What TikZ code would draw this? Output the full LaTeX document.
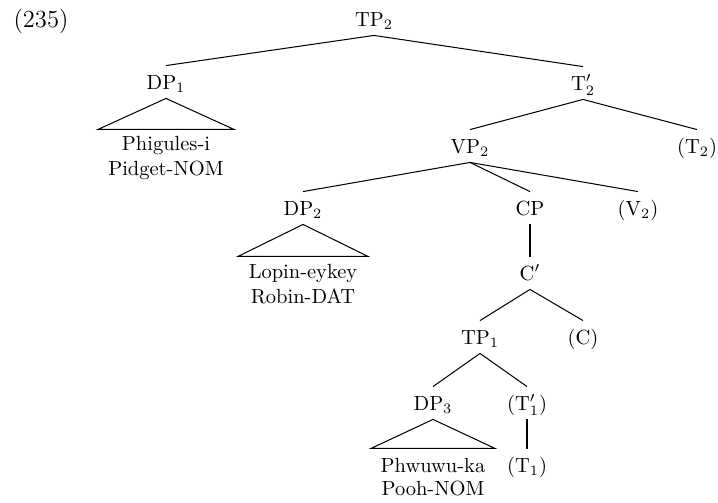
\documentclass[tikz,border=0pt]{standalone}
\begin{document}
\begin{tikzpicture}[x=0.4878pt,y=-0.4878pt,
  cat/.style={inner sep=0pt, outer ysep=4.6pt, text height=6.83pt, text depth=0pt, anchor=base},
  word/.style={inner sep=0pt, anchor=base},
  edge/.style={line width=0.5pt}]
\useasboundingbox (0,0) rectangle (718,502);
% labels
\node[word, font=\large] (ex) at (41,27) {(235)};
\node[cat] (TP2) at (374,26) {TP$_2$};
\node[cat] (DP1) at (166,89) {DP$_1$};
\node[cat] (T2bar) at (583,90) {T$'_2$};
\node[word] (w1a) at (166,150) {Phigules-i};
\node[word] (w1b) at (166,175) {Pidget-NOM};
\node[cat] (VP2) at (470,153) {VP$_2$};
\node[cat] (T2) at (697,153) {(T$_2$)};
\node[cat] (DP2) at (303,215) {DP$_2$};
\node[cat] (CP) at (530,215) {CP};
\node[cat] (V2) at (638,215) {(V$_2$)};
\node[word] (w2a) at (303,278) {Lopin-eykey};
\node[word] (w2b) at (303,303) {Robin-DAT};
\node[cat] (Cbar) at (530,280) {C$'$};
\node[cat] (TP1) at (480,344) {TP$_1$};
\node[cat] (C) at (583,344) {(C)};
\node[cat] (DP3) at (433,410) {DP$_3$};
\node[cat] (T1bar) at (527,410) {(T$'_1$)};
\node[word] (w3a) at (433,472) {Phwuwu-ka};
\node[word] (w3b) at (433,495) {Pooh-NOM};
\node[cat] (T1) at (527,472) {(T$_1$)};
% branches
\draw[edge] (TP2.south) -- (DP1.north);
\draw[edge] (TP2.south) -- (T2bar.north);
\draw[edge] (T2bar.south) -- (VP2.north);
\draw[edge] (T2bar.south) -- (T2.north);
\draw[edge] (VP2.south) -- (DP2.north);
\draw[edge] (VP2.south) -- (CP.north);
\draw[edge] (VP2.south) -- (V2.north);
\draw[edge] (CP.south) -- (Cbar.north);
\draw[edge] (Cbar.south) -- (TP1.north);
\draw[edge] (Cbar.south) -- (C.north);
\draw[edge] (TP1.south) -- (DP3.north);
\draw[edge] (TP1.south) -- (T1bar.north);
\draw[edge] (T1bar.south) -- (T1.north);
% triangles
\draw[edge] (DP1.south) -- ++(-68,31) -- ++(136,0) -- cycle;
\draw[edge] (DP2.south) -- ++(-65,32) -- ++(130,0) -- cycle;
\draw[edge] (DP3.south) -- ++(-62,29) -- ++(124,0) -- cycle;
\end{tikzpicture}
\end{document}
